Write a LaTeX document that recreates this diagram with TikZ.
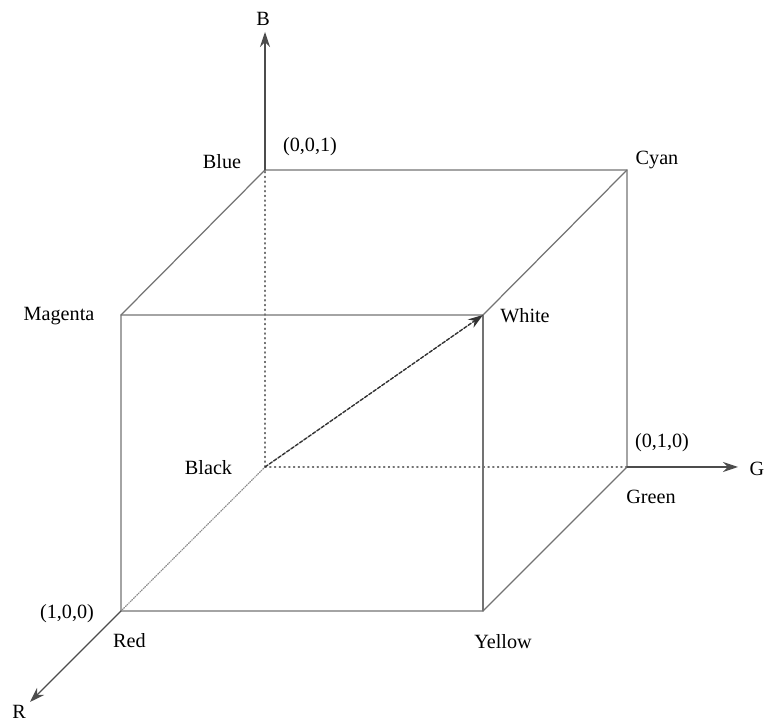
\documentclass[tikz,border=0pt]{standalone}
\usepackage{fontspec}
\setmainfont{Liberation Serif}
\usetikzlibrary{arrows.meta}

\begin{document}
\begin{tikzpicture}[>={Stealth[length=3mm,width=2mm]},font=\fontsize{11.5}{13}\selectfont,line cap=round]
\tikzset{edge/.style={black!55,line width=0.7pt},
  hidden/.style={black!55,line width=0.7pt,dotted},
  lbl/.style={inner sep=0pt}}
\useasboundingbox (0,0) rectangle (15.36,14.44);
% corners of the cube
\coordinate (black) at (5.30,5.10);
\coordinate (blue) at (5.30,11.04);
\coordinate (green) at (12.54,5.10);
\coordinate (red) at (2.42,2.22);
\coordinate (magenta) at (2.42,8.14);
\coordinate (white) at (9.66,8.14);
\coordinate (cyan) at (12.54,11.04);
\coordinate (yellow) at (9.66,2.22);
% axis ends
\coordinate (btip) at (5.30,13.80);
\coordinate (gtip) at (14.76,5.10);
\coordinate (rtip) at (0.60,0.40);
% visible edges
\draw[edge] (blue) -- (cyan) -- (green) -- (yellow) -- (red) -- (magenta) -- (blue);
\draw[edge] (magenta) -- (white) -- (cyan);
\draw[edge] (white) -- (yellow);
% hidden edges
\draw[hidden] (black) -- (blue);
\draw[hidden] (black) -- (green);
\draw[hidden,black!45,dash pattern=on 0.5pt off 0.8pt] (black) -- (red);
% axes
\draw[edge,->,black!70] (blue) -- (btip);
\draw[edge,->,black!70] (green) -- (gtip);
\draw[edge,->,black!70] (red) -- (rtip);
\draw[->,black!80,line width=0.8pt,dash pattern=on 2pt off 1pt] (black) -- (white);
% labels
\node[lbl] (lb) at (5.26,14.06) {B};
\node[lbl] (lg) at (15.14,5.06) {G};
\node[lbl] (lr) at (0.38,0.21) {R};
\node[lbl] (lblue) at (4.44,11.21) {Blue};
\node[lbl] (lz) at (6.20,11.50) {(0,0,1)};
\node[lbl] (lcyan) at (13.14,11.24) {Cyan};
\node[lbl] (lmagenta) at (1.18,8.12) {Magenta};
\node[lbl] (lwhite) at (10.50,8.12) {White};
\node[lbl] (lblack) at (4.17,5.08) {Black};
\node[lbl] (ly) at (13.24,5.58) {(0,1,0)};
\node[lbl] (lgreen) at (13.02,4.50) {Green};
\node[lbl] (lx) at (1.34,2.16) {(1,0,0)};
\node[lbl] (lred) at (2.59,1.62) {Red};
\node[lbl] (lyellow) at (10.06,1.60) {Yellow};
\end{tikzpicture}
\end{document}
